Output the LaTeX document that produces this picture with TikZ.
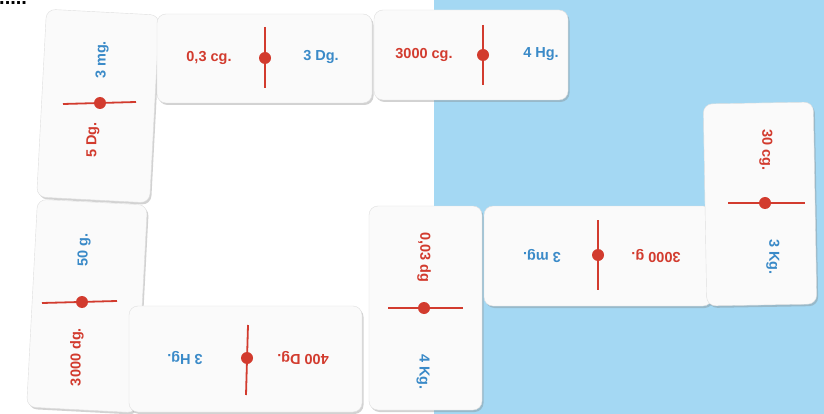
\documentclass[tikz,border=0pt]{standalone}
\usepackage{fontspec}
\setmainfont{Liberation Sans}
\usetikzlibrary{shadows}
\definecolor{skyback}{HTML}{A4D8F3}
\definecolor{pipred}{HTML}{D23B2E}
\definecolor{pipblue}{HTML}{3A8AC8}
\tikzset{
  domino/.style={draw=gray!25, fill=gray!4, rounded corners=9pt, inner sep=0pt,
    drop shadow={shadow xshift=1.5pt, shadow yshift=-2pt, opacity=0.35}},
  redtxt/.style={text=pipred, font=\bfseries\fontsize{14.5}{16}\selectfont, inner sep=1pt},
  bluetxt/.style={text=pipblue, font=\bfseries\fontsize{14.5}{16}\selectfont, inner sep=1pt},
  pip/.style={circle, fill=pipred, minimum size=12pt, inner sep=0pt},
  bar/.style={draw=pipred, line width=1.8pt}
}
\begin{document}
\begin{tikzpicture}[x=1pt, y=-1pt]
\useasboundingbox (0,0) rectangle (824,414);
\fill[white] (0,0) rectangle (824,414);
\fill[skyback] (434,0) rectangle (824,414);
\node[anchor=base west, inner sep=0pt, font=\bfseries\fontsize{20}{20}\selectfont] (dots) at (-1,5) {.....};

% dominoes
\node[domino, minimum width=113, minimum height=188, rotate=-3] (d1) at (98,106) {};
\node[domino, minimum width=215, minimum height=89] (d2) at (264.5,58.5) {};
\node[domino, minimum width=194, minimum height=90] (d3) at (471,55) {};
\node[domino, minimum width=110, minimum height=208, rotate=-3] (d4) at (87,306) {};
\node[domino, minimum width=233, minimum height=106] (d5) at (245.5,359) {};
\node[domino, minimum width=113, minimum height=204] (d6) at (425.5,308) {};
\node[domino, minimum width=228, minimum height=100] (d7) at (598,256) {};
\node[domino, minimum width=110, minimum height=202, rotate=1] (d8) at (760,204) {};

% pips and bars
\draw[bar] (63,104) -- (136,102);
\node[pip] (p1) at (100,103) {};
\draw[bar] (265,27) -- (265,88);
\node[pip] (p2) at (265,58) {};
\draw[bar] (483,25) -- (483,85);
\node[pip] (p3) at (483,55) {};
\draw[bar] (42,303) -- (117,301);
\node[pip] (p4) at (82,302) {};
\draw[bar] (248,325) -- (246,395);
\node[pip] (p5) at (247,358) {};
\draw[bar] (388,308) -- (463,308);
\node[pip] (p6) at (424,308) {};
\draw[bar] (598,220) -- (598,290);
\node[pip] (p7) at (598,255) {};
\draw[bar] (728,203) -- (805,203);
\node[pip] (p8) at (765,203) {};

% values
\node[bluetxt, rotate=90] (t1) at (102,60) {3 mg.};
\node[redtxt, rotate=90] (t2) at (93,140) {5 Dg.};
\node[redtxt] (t3) at (209,58) {0,3 cg.};
\node[bluetxt] (t4) at (321,57) {3 Dg.};
\node[redtxt] (t5) at (424,55) {3000 cg.};
\node[bluetxt] (t6) at (541,54) {4 Hg.};
\node[bluetxt, rotate=90] (t7) at (84,250) {50 g.};
\node[redtxt, rotate=90] (t8) at (77,357) {3000 dg.};
\node[bluetxt, rotate=180] (t9) at (185,358) {3 Hg.};
\node[redtxt, rotate=180] (t10) at (303,358) {400 Dg.};
\node[redtxt, rotate=-90] (t11) at (424,257) {0,03 dg};
\node[bluetxt, rotate=-90] (t12) at (423,372) {4 Kg.};
\node[bluetxt, rotate=180] (t13) at (542,256) {3 mg.};
\node[redtxt, rotate=180] (t14) at (656,256) {3000 g.};
\node[redtxt, rotate=-90] (t15) at (766,150) {30 cg.};
\node[bluetxt, rotate=-90] (t16) at (773,257) {3 Kg.};
\end{tikzpicture}
\end{document}
